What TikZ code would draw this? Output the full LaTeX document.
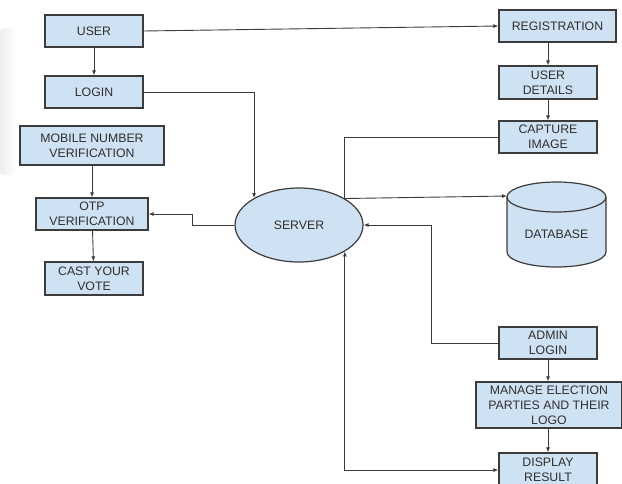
\documentclass[tikz,border=0pt]{standalone}
\usepackage{fontspec}
\setmainfont{Liberation Sans}
\usetikzlibrary{arrows.meta,shapes.geometric}
\definecolor{boxfill}{HTML}{CFE2F3}
\definecolor{boxline}{HTML}{3C3C3C}
\definecolor{txt}{HTML}{2E2E2E}
\tikzset{
  every node/.style={font=\fontsize{12.3}{14.8}\selectfont, text=txt},
  procbox/.style={draw=boxline, line width=1.2pt, fill=boxfill, align=center,
    inner sep=0pt, minimum width=98pt, minimum height=32pt},
  link/.style={draw=boxline, line width=0.9pt},
  arr/.style={link, -{Latex[length=5pt,width=4pt]}},
  darr/.style={link, {Latex[length=5pt,width=4pt]}-{Latex[length=5pt,width=4pt]}},
}
\begin{document}
\begin{tikzpicture}[x=1pt,y=-1pt]
\useasboundingbox (0,0) rectangle (622,483);
\fill[white] (0,0) rectangle (622,483);
% faint grey band on the left border
\shade[left color=gray!14, right color=white, rounded corners=4pt]
  (0,28) rectangle (16,175);

% left column
\node[procbox] (user)  at (94,31)    {USER};
\node[procbox] (login) at (94,92)    {LOGIN};
\node[procbox, minimum width=144pt, minimum height=39pt] (mobile) at (92,145.5) {MOBILE NUMBER\\VERIFICATION};
\node[procbox, minimum width=112pt] (otp) at (92,214) {OTP\\VERIFICATION};
\node[procbox, minimum height=33pt] (cast) at (94,278.5) {CAST YOUR\\VOTE};

% server
\node[draw=boxline, line width=1.2pt, fill=boxfill, ellipse, inner sep=0pt,
  minimum width=128pt, minimum height=74pt] (server) at (299,225) {SERVER};

% right column
\node[procbox, minimum width=117pt] (reg) at (557.5,26) {REGISTRATION};
\node[procbox, minimum height=33pt] (details) at (548,82.5) {USER\\DETAILS};
\node[procbox] (capture) at (548,137) {CAPTURE\\IMAGE};
\node[procbox] (admin) at (548,343) {ADMIN\\LOGIN};
\node[procbox, minimum width=146pt, minimum height=46pt] (manage) at (549,405) {MANAGE ELECTION\\PARTIES AND THEIR\\LOGO};
\node[procbox, minimum height=34pt] (display) at (548,470) {DISPLAY\\RESULT};

% database cylinder
\filldraw[draw=boxline, line width=1.2pt, fill=boxfill]
  (507,197) -- (507,252) arc[start angle=180, end angle=360, x radius=49.5, y radius=-15]
  -- (606,197) arc[start angle=0, end angle=180, x radius=49.5, y radius=-15] -- cycle;
\draw[draw=boxline, line width=1.2pt]
  (507,197) arc[start angle=180, end angle=360, x radius=49.5, y radius=-15];
\node (db) at (556.5,234) {DATABASE};
\coordinate (dbin) at (507,196);

% connectors
\draw[arr] (user) -- (login);
\draw[arr] (user.east) -- (reg.west);
\draw[arr] (reg.south -| details.north) -- (details);
\draw[arr] (details) -- (capture);
\draw[arr] (login.east) -| (server.149.7);
\draw[link] (capture.west) -| (server.30.3);
\draw[arr] (server.30.3) -- (dbin);
\coordinate (adminbend) at (431,225);
\draw[arr] (admin.west) -| (adminbend) -- (server.east);
\draw[darr] (server.-30.3) |- (display.west);
\coordinate (otpbend) at (192,214);
\draw[arr] (server.west) -| (otpbend) -- (otp.east);
\draw[arr] (mobile) -- (otp);
\draw[arr] (otp) -- (cast);
\draw[arr] (admin) -- (admin |- manage.north);
\draw[arr] (manage.south -| display.north) -- (display);
\end{tikzpicture}
\end{document}
